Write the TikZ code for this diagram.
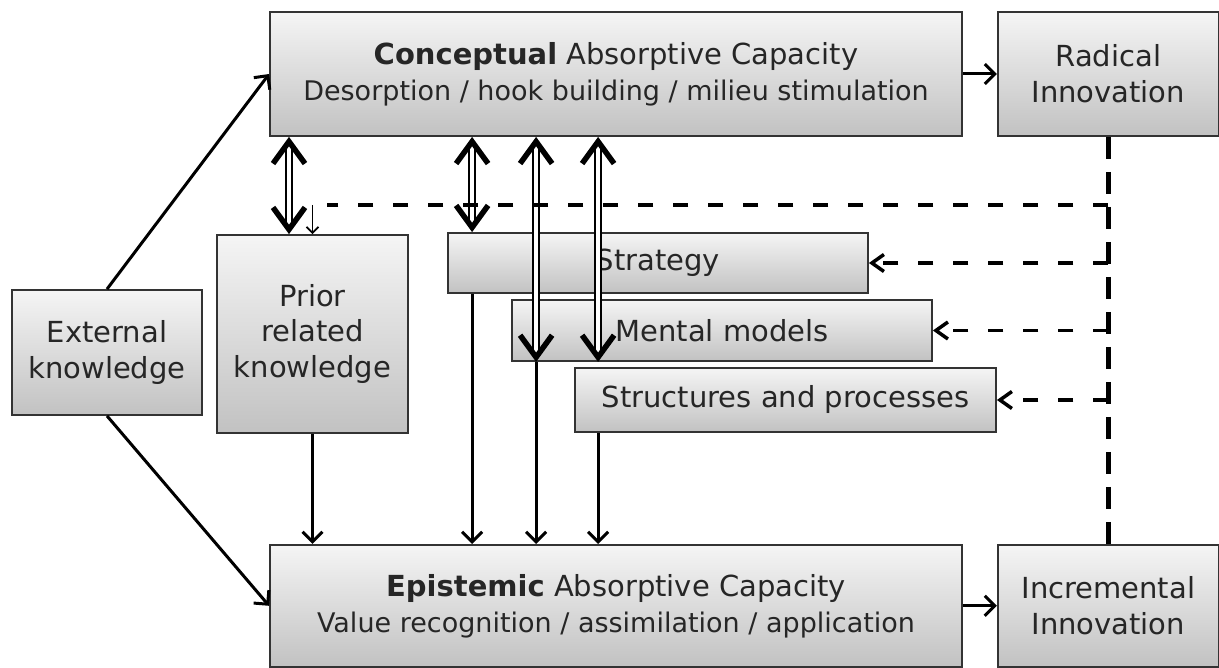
\documentclass[tikz,border=0pt]{standalone}
\usepackage{fontspec}
\setmainfont{DejaVu Sans}
\usetikzlibrary{positioning,arrows.meta}

\begin{document}
\begin{tikzpicture}[x=1pt,y=-1pt,
box/.style={rectangle,draw=black!80,line width=1.8pt,top color=black!4,bottom color=black!24,
inner sep=0pt,align=center,text=black!85,font=\fontsize{29}{36}\selectfont},
sub/.style={font=\fontsize{27}{36}\selectfont},
flow/.style={line width=3pt,-{Straight Barb[length=10pt,width=20pt]}},
twoway/.style={double,double distance=4pt,line width=1.8pt,
{Straight Barb[line width=5.5pt,length=22pt,width=32pt]}-{Straight Barb[line width=5.5pt,length=22pt,width=32pt]}},
feedback/.style={line width=3.5pt,dash pattern=on 15pt off 20pt},
backarrow/.style={feedback,-{Straight Barb[line width=3.5pt,length=12pt,width=17pt]}}]
\useasboundingbox (0,0) rectangle (1219,668);
\node[box,minimum width=692pt,minimum height=124pt] (concept) at (616,74)
  {\textbf{Conceptual} Absorptive Capacity\\{\fontsize{27}{36}\selectfont Desorption / hook building / milieu stimulation}};
\node[box,minimum width=221pt,minimum height=124pt] (radical) [right=34pt of concept] {Radical\\Innovation};
\node[box,minimum width=692pt,minimum height=122pt] (epistemic) [below=407pt of concept]
  {\textbf{Epistemic} Absorptive Capacity\\{\fontsize{27}{36}\selectfont Value recognition / assimilation / application}};
\node[box,minimum width=221pt,minimum height=122pt] (incremental) [right=34pt of epistemic] {Incremental\\Innovation};
\node[box,minimum width=190pt,minimum height=125pt] (external) at (107,352.5) {External\\knowledge};
\node[box,minimum width=191pt,minimum height=198pt] (prior) at (312.5,334) {Prior\\related\\knowledge};
\node[box,minimum width=420pt,minimum height=60pt] (strategy) at (658,263) {Strategy};
\node[box,minimum width=420pt,minimum height=61pt] (mental) at (722,330.5) {Mental models};
\node[box,minimum width=421pt,minimum height=64pt] (structures) at (785.5,400) {Structures and processes};

% where the vertical links leave the boxes
\coordinate (pk) at ([xshift=-23.5pt]prior.north);
\coordinate (s1) at ([xshift=25pt]strategy.south west);
\coordinate (m1) at ([xshift=25pt]mental.south west);
\coordinate (p1) at ([xshift=24pt]structures.south west);
\coordinate (row) at (0,205);

\draw[flow] (external.north) -- (concept.west);
\draw[flow] (external.south) -- (epistemic.west);
\draw[flow] (concept) -- (radical);
\draw[flow] (epistemic) -- (incremental);

\draw[flow] (prior.south) -- (prior.south |- epistemic.north);
\draw[flow] (s1) -- (s1 |- epistemic.north);
\draw[flow] (m1) -- (m1 |- epistemic.north);
\draw[flow] (p1) -- (p1 |- epistemic.north);

\draw[twoway] (pk |- concept.south) -- (pk);
\draw[twoway] (s1 |- concept.south) -- (s1 |- strategy.north);
\draw[twoway] (m1 |- concept.south) -- (m1);
\draw[twoway] (p1 |- concept.south) -- (p1 |- mental.south);

% feedback from radical innovation
\draw[line width=5pt,dash pattern=on 22pt off 13pt] (radical.south) -- (incremental.north);
\draw[feedback] (radical.south |- row) -- ([xshift=14pt]prior.north |- row);
\draw[line width=1.8pt,-{Straight Barb[length=6pt,width=12pt]}] (prior.north |- row) -- (prior.north);
\draw[backarrow] (radical.south |- strategy.east) -- (strategy.east);
\draw[backarrow] (radical.south |- mental.east) -- (mental.east);
\draw[backarrow] (radical.south |- structures.east) -- (structures.east);
\end{tikzpicture}
\end{document}
